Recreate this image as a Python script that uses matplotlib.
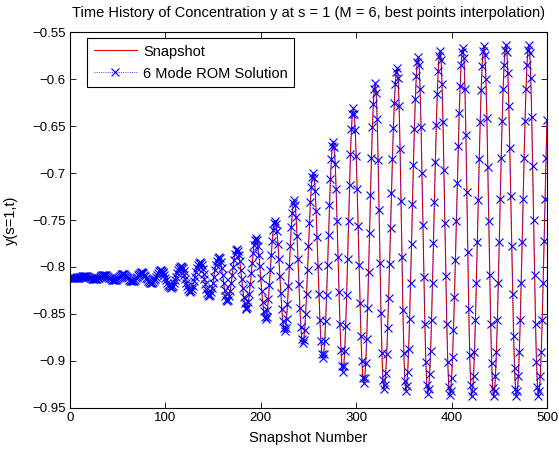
import matplotlib
matplotlib.use('Agg')
import matplotlib.pyplot as plt
import numpy as np

plt.rcParams['font.family'] = ['Liberation Sans', 'DejaVu Sans']

# concentration y(s=1,t) at each snapshot 0..500
snapshot_y = [
    -0.8109, -0.8111, -0.8113, -0.8115, -0.8117, -0.8118, -0.8118, -0.8117, -0.8116, -0.8113,
    -0.8110, -0.8107, -0.8103, -0.8100, -0.8097, -0.8096, -0.8095, -0.8096, -0.8099, -0.8103,
    -0.8108, -0.8114, -0.8119, -0.8124, -0.8129, -0.8131, -0.8132, -0.8131, -0.8128, -0.8122,
    -0.8116, -0.8109, -0.8101, -0.8095, -0.8090, -0.8086, -0.8085, -0.8086, -0.8091, -0.8097,
    -0.8105, -0.8114, -0.8123, -0.8131, -0.8138, -0.8142, -0.8143, -0.8141, -0.8136, -0.8128,
    -0.8119, -0.8108, -0.8097, -0.8087, -0.8079, -0.8074, -0.8072, -0.8075, -0.8082, -0.8093,
    -0.8106, -0.8121, -0.8134, -0.8145, -0.8153, -0.8155, -0.8153, -0.8146, -0.8135, -0.8121,
    -0.8106, -0.8091, -0.8077, -0.8066, -0.8059, -0.8057, -0.8060, -0.8068, -0.8081, -0.8097,
    -0.8115, -0.8132, -0.8148, -0.8161, -0.8169, -0.8172, -0.8169, -0.8159, -0.8144, -0.8125,
    -0.8104, -0.8082, -0.8063, -0.8048, -0.8038, -0.8035, -0.8039, -0.8050, -0.8067, -0.8090,
    -0.8115, -0.8142, -0.8167, -0.8190, -0.8207, -0.8218, -0.8222, -0.8216, -0.8200, -0.8174,
    -0.8142, -0.8106, -0.8070, -0.8038, -0.8012, -0.7996, -0.7990, -0.7997, -0.8016, -0.8046,
    -0.8084, -0.8126, -0.8168, -0.8206, -0.8236, -0.8255, -0.8262, -0.8254, -0.8232, -0.8198,
    -0.8154, -0.8106, -0.8058, -0.8014, -0.7980, -0.7958, -0.7950, -0.7959, -0.7984, -0.8024,
    -0.8074, -0.8130, -0.8186, -0.8236, -0.8276, -0.8301, -0.8310, -0.8300, -0.8270, -0.8225,
    -0.8167, -0.8103, -0.8038, -0.7981, -0.7935, -0.7905, -0.7895, -0.7909, -0.7950, -0.8013,
    -0.8090, -0.8173, -0.8250, -0.8313, -0.8354, -0.8368, -0.8354, -0.8315, -0.8253, -0.8175,
    -0.8089, -0.8003, -0.7925, -0.7863, -0.7824, -0.7810, -0.7826, -0.7871, -0.7942, -0.8031,
    -0.8130, -0.8229, -0.8318, -0.8389, -0.8434, -0.8450, -0.8431, -0.8377, -0.8293, -0.8187,
    -0.8070, -0.7953, -0.7847, -0.7763, -0.7709, -0.7690, -0.7711, -0.7773, -0.7868, -0.7989,
    -0.8123, -0.8256, -0.8377, -0.8472, -0.8534, -0.8555, -0.8529, -0.8455, -0.8340, -0.8194,
    -0.8033, -0.7871, -0.7725, -0.7610, -0.7536, -0.7510, -0.7539, -0.7622, -0.7752, -0.7916,
    -0.8098, -0.8279, -0.8443, -0.8573, -0.8656, -0.8685, -0.8651, -0.8552, -0.8398, -0.8203,
    -0.7988, -0.7772, -0.7578, -0.7423, -0.7324, -0.7290, -0.7336, -0.7468, -0.7671, -0.7920,
    -0.8185, -0.8434, -0.8637, -0.8769, -0.8815, -0.8778, -0.8671, -0.8502, -0.8285, -0.8037,
    -0.7779, -0.7531, -0.7313, -0.7144, -0.7037, -0.7000, -0.7048, -0.7188, -0.7406, -0.7681,
    -0.7986, -0.8291, -0.8566, -0.8784, -0.8924, -0.8972, -0.8925, -0.8789, -0.8574, -0.8298,
    -0.7983, -0.7655, -0.7339, -0.7063, -0.6848, -0.6712, -0.6665, -0.6725, -0.6899, -0.7170,
    -0.7512, -0.7890, -0.8269, -0.8610, -0.8881, -0.9055, -0.9115, -0.9058, -0.8892, -0.8631,
    -0.8295, -0.7912, -0.7513, -0.7130, -0.6794, -0.6533, -0.6367, -0.6310, -0.6370, -0.6543,
    -0.6816, -0.7166, -0.7567, -0.7983, -0.8384, -0.8734, -0.9007, -0.9181, -0.9240, -0.9186,
    -0.9026, -0.8772, -0.8441, -0.8056, -0.7643, -0.7229, -0.6844, -0.6513, -0.6259, -0.6099,
    -0.6045, -0.6143, -0.6426, -0.6859, -0.7390, -0.7955, -0.8486, -0.8919, -0.9202, -0.9300,
    -0.9257, -0.9131, -0.8927, -0.8656, -0.8332, -0.7971, -0.7590, -0.7209, -0.6848, -0.6524,
    -0.6253, -0.6049, -0.5923, -0.5880, -0.5984, -0.6283, -0.6740, -0.7301, -0.7899, -0.8460,
    -0.8918, -0.9216, -0.9320, -0.9268, -0.9117, -0.8873, -0.8552, -0.8173, -0.7757, -0.7329,
    -0.6912, -0.6533, -0.6212, -0.5968, -0.5817, -0.5765, -0.5853, -0.6107, -0.6504, -0.7004,
    -0.7558, -0.8111, -0.8611, -0.9008, -0.9262, -0.9350, -0.9297, -0.9141, -0.8891, -0.8562,
    -0.8172, -0.7745, -0.7305, -0.6878, -0.6488, -0.6159, -0.5909, -0.5753, -0.5700, -0.5790,
    -0.6050, -0.6455, -0.6966, -0.7533, -0.8099, -0.8610, -0.9015, -0.9275, -0.9365, -0.9319,
    -0.9182, -0.8961, -0.8668, -0.8318, -0.7927, -0.7515, -0.7103, -0.6713, -0.6362, -0.6069,
    -0.5848, -0.5711, -0.5665, -0.5777, -0.6099, -0.6593, -0.7198, -0.7842, -0.8448, -0.8941,
    -0.9263, -0.9375, -0.9321, -0.9162, -0.8906, -0.8569, -0.8171, -0.7735, -0.7286, -0.6849,
    -0.6451, -0.6114, -0.5858, -0.5700, -0.5645, -0.5737, -0.6002, -0.6414, -0.6935, -0.7512,
    -0.8088, -0.8609, -0.9022, -0.9287, -0.9378, -0.9323, -0.9164, -0.8908, -0.8570, -0.8170,
    -0.7732, -0.7281, -0.6843, -0.6444, -0.6106, -0.5849, -0.5690, -0.5635, -0.5711, -0.5932,
    -0.6281, -0.6729, -0.7240, -0.7773, -0.8284, -0.8732, -0.9081, -0.9302, -0.9378, -0.9323,
    -0.9164, -0.8907, -0.8569, -0.8169, -0.7731, -0.7280, -0.6841, -0.6441, -0.6103, -0.5846,
    -0.5687, -0.5632, -0.5724, -0.5990, -0.6403, -0.6925, -0.7504, -0.8082, -0.8604, -0.9018,
    -0.9283, -0.9375, -0.9320, -0.9161, -0.8904, -0.8566, -0.8167, -0.7728, -0.7277, -0.6838,
    -0.6439,
]
# the ROM solution sits on top of the snapshot curve at this scale
rom_y = snapshot_y

x_ticks = [0, 100, 200, 300, 400, 500]
y_ticks = [-0.95, -0.9, -0.85, -0.8, -0.75, -0.7, -0.65, -0.6, -0.55]
y_tick_labels = ['\u22120.95', '\u22120.9', '\u22120.85', '\u22120.8', '\u22120.75',
                 '\u22120.7', '\u22120.65', '\u22120.6', '\u22120.55']

fig = plt.figure(figsize=(5.59, 4.5), dpi=100)
ax = fig.add_axes([0.1252, 0.094, 0.8533, 0.8342])

t = np.arange(len(snapshot_y))
ax.plot(t, snapshot_y, color='red', lw=0.8, label='Snapshot')
ax.plot(t, rom_y, color='blue', ls=':', lw=0.6, marker='x', ms=5.5, mew=0.8,
        label='6 Mode ROM Solution')

ax.set_xlim(0, 500)
ax.set_ylim(-0.95, -0.55)
ax.set_xticks(x_ticks)
ax.set_yticks(y_ticks)
ax.set_yticklabels(y_tick_labels)
ax.tick_params(direction='in', top=True, right=True, length=4, width=0.6,
               labelsize=9.5, pad=3)
for sp in ax.spines.values():
    sp.set_linewidth(0.8)

ax.set_title('Time History of Concentration y at s = 1 (M = 6, best points interpolation)',
             fontsize=10.5, pad=11)
ax.set_xlabel('Snapshot Number', fontsize=10.5, labelpad=5)
ax.set_ylabel('y(s=1,t)', fontsize=10.5, labelpad=10)

leg = ax.legend(loc='upper left', bbox_to_anchor=(0.0356, 0.985), borderaxespad=0,
                fontsize=10.5, fancybox=False, framealpha=1, edgecolor='black',
                handlelength=3.0, handletextpad=0.4, labelspacing=0.55,
                borderpad=0.45)
leg.get_frame().set_linewidth(0.8)

fig.savefig('out.png', dpi=100)
